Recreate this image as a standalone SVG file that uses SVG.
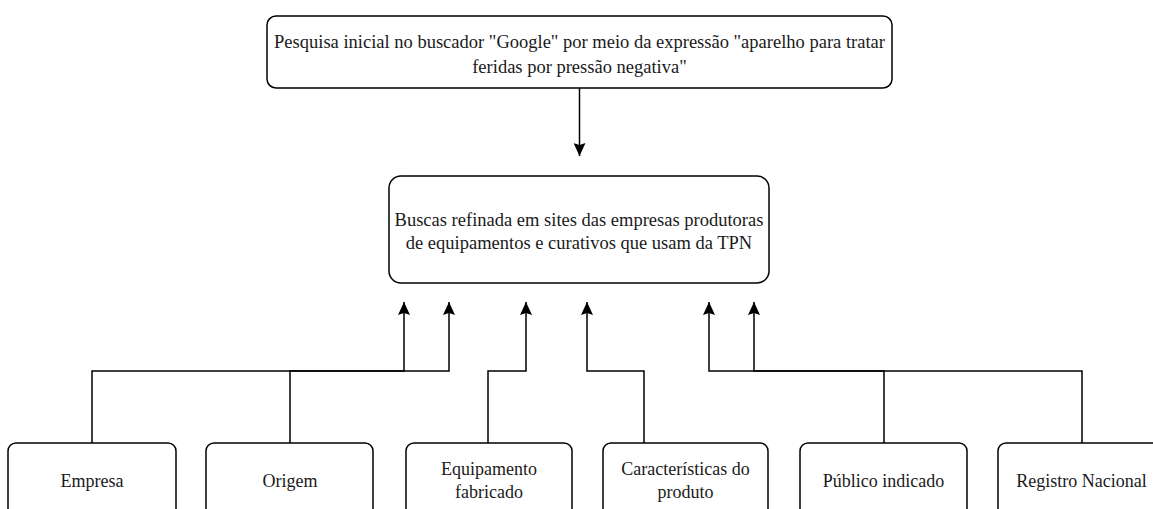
<svg xmlns="http://www.w3.org/2000/svg" width="1153" height="509" viewBox="0 0 1153 509">
  <defs>
    <marker id="arrow" viewBox="0 0 13 12" refX="13" refY="6" markerWidth="13" markerHeight="12" markerUnits="userSpaceOnUse" orient="auto">
      <path d="M0,0 L13,6 L0,12 L2,6 Z" fill="#000"/>
    </marker>
    <style>
      .box { fill: #fff; stroke: #000; stroke-width: 1.5; }
      .lbl { font-family: "Liberation Serif", "Times New Roman", serif; font-size: 18px; fill: #1a1a1a; text-anchor: middle; }
      .big { font-size: 18.5px; }
      .conn { fill: none; stroke: #000; stroke-width: 1.5; }
      .arr { marker-end: url(#arrow); }
    </style>
  </defs>
  <rect width="1153" height="509" fill="#fff"/>

  <!-- connectors -->
  <g id="connectors">
    <path class="conn arr" d="M579.5 88 V156"/>
    <path class="conn arr" d="M92 443 V371 H449 V302"/>
    <path class="conn arr" d="M290 443 V371 H404 V302"/>
    <path class="conn arr" d="M488 443 V371 H526 V302"/>
    <path class="conn arr" d="M644 443 V371 H587 V302"/>
    <path class="conn arr" d="M884 443 V371 H709 V302"/>
    <path class="conn arr" d="M1082 443 V371 H754 V302"/>
  </g>

  <g id="pesquisa-inicial">
    <rect class="box" x="267" y="16" width="625" height="72" rx="9"/>
    <text class="lbl big" x="579.5" y="48">Pesquisa inicial no buscador "Google" por meio da expressão "aparelho para tratar</text>
    <text class="lbl big" x="579.5" y="73">feridas por pressão negativa"</text>
  </g>

  <g id="buscas-refinada">
    <rect class="box" x="389" y="176" width="380" height="107" rx="12"/>
    <text class="lbl big" x="579" y="226">Buscas refinada em sites das empresas produtoras</text>
    <text class="lbl big" x="579" y="249">de equipamentos e curativos que usam da TPN</text>
  </g>

  <g id="empresa">
    <rect class="box" x="8" y="443" width="168" height="80" rx="8"/>
    <text class="lbl" x="92" y="487">Empresa</text>
  </g>

  <g id="origem">
    <rect class="box" x="206" y="443" width="167" height="80" rx="8"/>
    <text class="lbl" x="290" y="487">Origem</text>
  </g>

  <g id="equipamento">
    <rect class="box" x="406" y="443" width="166" height="80" rx="8"/>
    <text class="lbl" x="489" y="475">Equipamento</text>
    <text class="lbl" x="489" y="498">fabricado</text>
  </g>

  <g id="caracteristicas">
    <rect class="box" x="603" y="443" width="165" height="80" rx="8"/>
    <text class="lbl" x="685.5" y="475">Características do</text>
    <text class="lbl" x="685.5" y="498">produto</text>
  </g>

  <g id="publico">
    <rect class="box" x="800" y="443" width="167" height="80" rx="8"/>
    <text class="lbl" x="883.5" y="487">Público indicado</text>
  </g>

  <g id="registro">
    <rect class="box" x="998" y="443" width="167" height="80" rx="8"/>
    <text class="lbl" x="1081.5" y="487">Registro Nacional</text>
  </g>
</svg>
